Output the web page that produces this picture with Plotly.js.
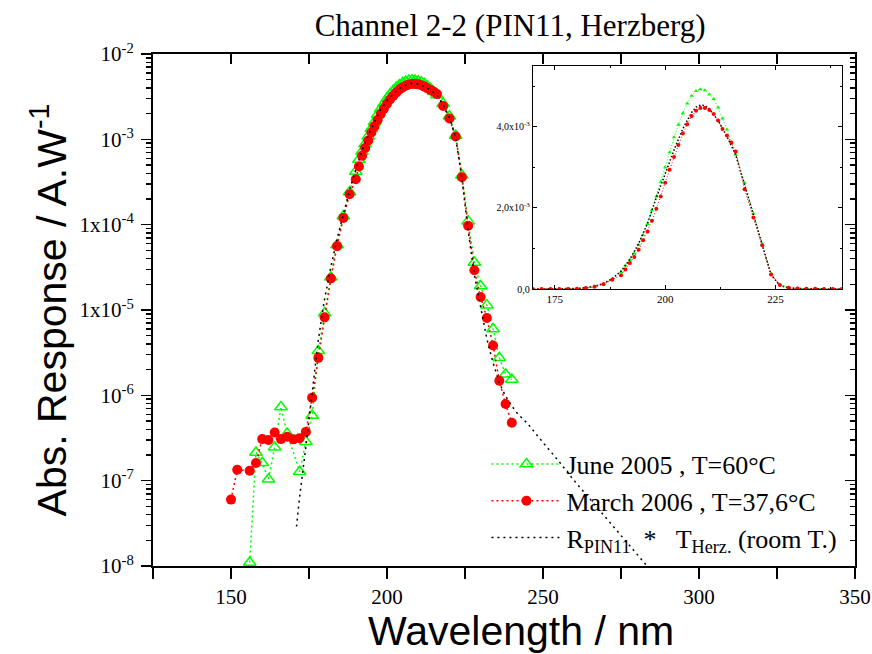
<!DOCTYPE html>
<html>
<head>
<meta charset="utf-8">
<script src="https://cdn.plot.ly/plotly-3.0.1.min.js"></script>
<style>html,body{margin:0;padding:0;background:#fff;}#chart{width:872px;height:654px;}</style>
</head>
<body>
<div id="chart"></div>
<script>
// ---- data ----
const juneX = [156,158,160,162,164,166,168,172,174,176,178,180,182,184,186,188,190,191,192,193,194,195,196,197,198,199,200,201,202,203,204,205,206,207,208,209,210,211,212,213,214,215,216,218,220,222,224,226,228,230,232,234,236,238,240];
const juneY = [1.1e-8,2.14e-7,1.62e-7,1.04e-7,2.47e-7,7.3e-7,3.58e-7,1.27e-7,2.86e-7,5.8e-7,3.32e-6,9.2e-6,2.42e-5,5.78e-5,1.26e-4,2.42e-4,4.2e-4,5.8e-4,7.2e-4,8.8e-4,1.09e-3,1.33e-3,1.60e-3,1.94e-3,2.28e-3,2.64e-3,3.00e-3,3.37e-3,3.74e-3,4.05e-3,4.33e-3,4.57e-3,4.76e-3,4.88e-3,4.92e-3,4.90e-3,4.79e-3,4.68e-3,4.47e-3,4.20e-3,3.93e-3,3.61e-3,3.31e-3,2.62e-3,1.86e-3,1.11e-3,3.79e-4,1.10e-4,3.6e-5,1.91e-5,1.14e-5,6.0e-6,2.75e-6,1.77e-6,1.53e-6];

const marchX = [150,152,156,158,160,162,164,166,168,170,172,174,176,178,180,182,184,186,188,190,191,192,193,194,195,196,197,198,199,200,201,202,203,204,205,206,207,208,209,210,211,212,213,214,215,216,218,220,222,224,226,228,230,232,234,236,238,240];
const marchY = [6.0e-8,1.34e-7,1.31e-7,1.61e-7,3.07e-7,2.99e-7,3.67e-7,3.07e-7,3.27e-7,3.05e-7,3.15e-7,3.73e-7,9.4e-7,2.75e-6,8.2e-6,2.34e-5,5.6e-5,1.20e-4,2.27e-4,3.4e-4,4.8e-4,6.4e-4,7.9e-4,9.7e-4,1.20e-3,1.42e-3,1.68e-3,1.98e-3,2.28e-3,2.62e-3,2.94e-3,3.25e-3,3.55e-3,3.83e-3,4.06e-3,4.26e-3,4.39e-3,4.46e-3,4.46e-3,4.41e-3,4.31e-3,4.15e-3,3.94e-3,3.78e-3,3.61e-3,3.39e-3,2.46e-3,1.76e-3,1.08e-3,3.6e-4,9.7e-5,2.92e-5,1.42e-5,8.07e-6,3.84e-6,1.48e-6,7.9e-7,4.77e-7];

const calcX = [171,172,174,176,178,180,182,184,186,188,190,192,194,196,198,200,202,204,206,207,208,209,210,212,214,216,218,220,222,224,226,228,230,232,234,236,238,240,242,245,250,255,260,265,270,275,280,285];
const calcY = [2.9e-8,6.5e-8,2.5e-7,1.0e-6,4.5e-6,1.35e-5,3.2e-5,6.8e-5,1.35e-4,2.55e-4,4.4e-4,7.3e-4,1.12e-3,1.62e-3,2.25e-3,2.85e-3,3.42e-3,3.95e-3,4.35e-3,4.48e-3,4.53e-3,4.52e-3,4.44e-3,4.15e-3,3.76e-3,3.30e-3,2.55e-3,1.80e-3,1.05e-3,3.5e-4,8.5e-5,2.6e-5,1.1e-5,4.6e-6,2.4e-6,1.4e-6,9.8e-7,7.5e-7,6.0e-7,4.7e-7,2.8e-7,1.7e-7,1.0e-7,6.1e-8,3.7e-8,2.3e-8,1.4e-8,8.5e-9];

const legendNames = ['June 2005 , T=60°C', 'March 2006 , T=37,6°C', 'R<sub>PIN11</sub>  *   T<sub>Herz.</sub> (room T.)'];
const yTickVals = [1e-8,1e-7,1e-6,1e-5,1e-4,1e-3,1e-2];
const yTickText = ['10<sup>-8</sup>','10<sup>-7</sup>','10<sup>-6</sup>','1x10<sup>-5</sup>','1x10<sup>-4</sup>','10<sup>-3</sup>','10<sup>-2</sup>'];
const insetYTickVals = [0, 2e-3, 4e-3];
const insetYTickText = ['0,0', '2,0x10<sup>-3</sup>', '4,0x10<sup>-3</sup>'];
const insetXTickVals = [175, 200, 225];

// ---- styles ----
const GREEN = '#00ff00', RED = '#ff0000', BLACK = '#000000';
const SERIF = 'Liberation Serif, Times New Roman, serif';
const SANS = 'Liberation Sans, Arial, sans-serif';

// minor tick positions on the log axis (2..9 of each decade)
const minorLog = [];
for (let e = -8; e < -2; e++) for (let m = 2; m <= 9; m++) minorLog.push(m * Math.pow(10, e));

const traces = [
  {x: juneX, y: juneY, name: legendNames[0], legendgroup: 'a', mode: 'lines+markers', cliponaxis: false,
   line: {color: GREEN, width: 1.5, dash: '2px,3px'},
   marker: {symbol: 'triangle-up-open', size: 11, color: GREEN, line: {width: 1.5, color: GREEN}}},
  {x: marchX, y: marchY, name: legendNames[1], legendgroup: 'b', mode: 'lines+markers',
   line: {color: RED, width: 1.5, dash: '2px,3px'},
   marker: {symbol: 'circle', size: 10, color: RED}},
  {x: calcX, y: calcY, name: legendNames[2], legendgroup: 'c', mode: 'lines',
   line: {color: BLACK, width: 1.5, dash: '2px,4px'}},
  // inset
  {x: juneX, y: juneY, xaxis: 'x2', yaxis: 'y2', mode: 'lines+markers', showlegend: false,
   line: {color: GREEN, width: 1, dash: '1px,2px'},
   marker: {symbol: 'triangle-up', size: 4, color: GREEN}},
  {x: calcX, y: calcY, xaxis: 'x2', yaxis: 'y2', mode: 'lines', showlegend: false,
   line: {color: BLACK, width: 1.5, dash: '1.5px,2px'}},
  {x: marchX, y: marchY, xaxis: 'x2', yaxis: 'y2', mode: 'lines+markers', showlegend: false,
   line: {color: RED, width: 1, dash: '1px,2px'},
   marker: {symbol: 'circle', size: 4, color: RED}},
  // helper for top/right inward ticks
  {x: [], y: [], xaxis: 'x3', yaxis: 'y3', mode: 'lines', showlegend: false, hoverinfo: 'skip'}
];

const layout = {
  width: 872, height: 654,
  margin: {l: 153, r: 17, t: 54, b: 88},
  paper_bgcolor: '#fff', plot_bgcolor: 'rgba(0,0,0,0)',
  showlegend: true,
  title: {text: 'Channel 2-2 (PIN11, Herzberg)', font: {family: SERIF, size: 31, color: '#000'},
          xref: 'container', x: 0.585, xanchor: 'center', yref: 'container', y: 0.962, yanchor: 'middle'},
  xaxis: {range: [125, 350], tick0: 0, dtick: 50, ticks: 'outside', ticklen: 11, tickwidth: 1.5, tickcolor: '#000',
          minor: {dtick: 25, tick0: 0, ticks: 'outside', ticklen: 11, tickwidth: 1.5, tickcolor: '#000'},
          showline: true, linewidth: 2, linecolor: '#000', showgrid: false, zeroline: false,
          tickfont: {family: SERIF, size: 21, color: '#000'},
          title: {text: '&nbsp;&nbsp;&nbsp;Wavelength / nm', font: {family: SANS, size: 41, color: '#000'}, standoff: 7}},
  yaxis: {type: 'log', range: [-8, -2], tickmode: 'array', tickvals: yTickVals, ticktext: yTickText,
          ticks: 'outside', ticklen: 10, tickwidth: 1.5, tickcolor: '#000', ticklabelstandoff: 3,
          minor: {tickmode: 'array', tickvals: minorLog, ticks: 'outside', ticklen: 5, tickwidth: 1.5, tickcolor: '#000'},
          showline: true, linewidth: 2, linecolor: '#000', showgrid: false, zeroline: false,
          tickfont: {family: SERIF, size: 21, color: '#000'},
          title: {text: 'Abs. Response / A.W<sup>-1</sup>', font: {family: SANS, size: 41, color: '#000'}, standoff: 0}},
  xaxis3: {overlaying: 'x', side: 'top', anchor: 'y3', range: [125, 350], tick0: 0, dtick: 25,
           ticks: 'inside', ticklen: 10, tickwidth: 1.5, tickcolor: '#000', showticklabels: false,
           showline: true, linewidth: 2, linecolor: '#000', showgrid: false, zeroline: false},
  yaxis3: {overlaying: 'y', side: 'right', anchor: 'x3', type: 'log', range: [-8, -2], tickmode: 'array', tickvals: yTickVals,
           ticks: 'inside', ticklen: 10, tickwidth: 1.5, tickcolor: '#000', showticklabels: false,
           minor: {tickmode: 'array', tickvals: minorLog, ticks: 'inside', ticklen: 5, tickwidth: 1.5, tickcolor: '#000'},
           showline: true, linewidth: 2, linecolor: '#000', showgrid: false, zeroline: false},
  xaxis2: {domain: [0.541, 0.981], anchor: 'y2', range: [170, 240], tickmode: 'array', tickvals: insetXTickVals,
           ticks: 'inside', ticklen: 4, tickwidth: 1, tickcolor: '#000', mirror: 'ticks',
           minor: {dtick: 12.5, tick0: 0, ticks: 'inside', ticklen: 2, tickcolor: '#000'},
           showline: true, linewidth: 1, linecolor: '#000', showgrid: false, zeroline: false,
           tickfont: {family: SERIF, size: 11, color: '#000'}},
  yaxis2: {domain: [0.541, 0.977], anchor: 'x2', range: [0, 5.5e-3], tickmode: 'array', tickvals: insetYTickVals, ticktext: insetYTickText,
           ticks: 'inside', ticklen: 4, tickwidth: 1, tickcolor: '#000', mirror: 'ticks',
           minor: {dtick: 1e-3, tick0: 0, ticks: 'inside', ticklen: 2, tickcolor: '#000'},
           showline: true, linewidth: 1, linecolor: '#000', showgrid: false, zeroline: false,
           tickfont: {family: SERIF, size: 10, color: '#000'}},
  legend: {x: 0.475, xanchor: 'left', y: 0.245, yanchor: 'top', bgcolor: 'rgba(0,0,0,0)', borderwidth: 0,
           itemwidth: 70, tracegroupgap: 0, traceorder: 'normal',
           font: {family: SERIF, size: 26, color: '#000'}}
};

Plotly.newPlot('chart', traces, layout, {displayModeBar: false, staticPlot: true});
</script>
</body>
</html>
